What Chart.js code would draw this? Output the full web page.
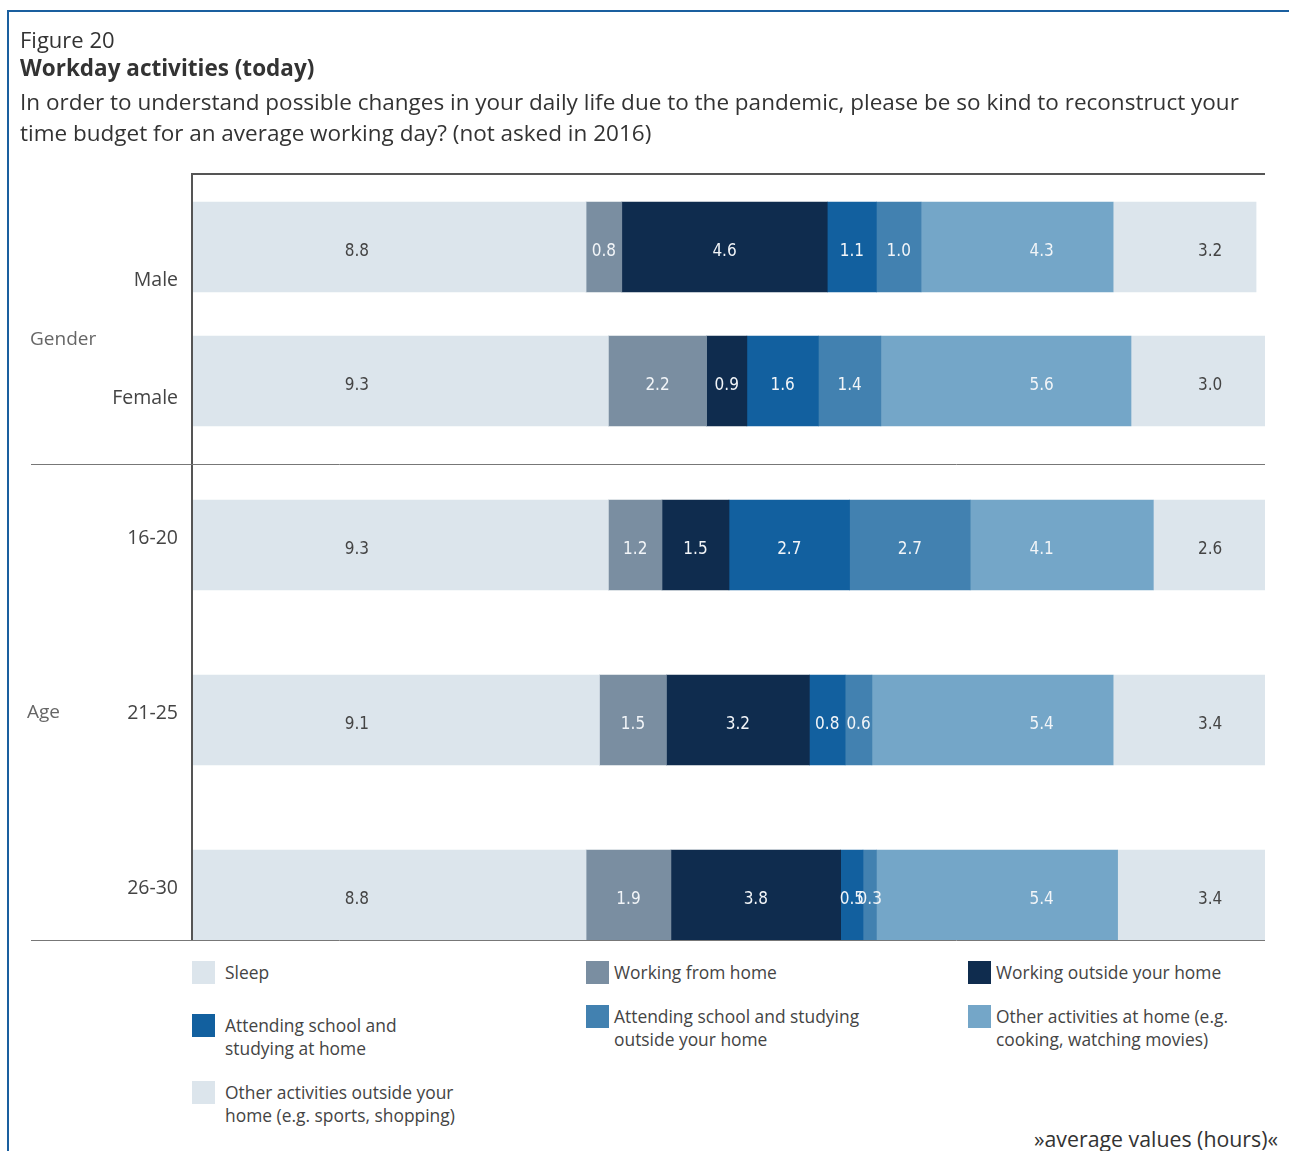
<!DOCTYPE html>
<html>
<head>
<meta charset="utf-8">
<title>Workday activities (today)</title>
<script src="https://cdn.jsdelivr.net/npm/chart.js@4.4.1/dist/chart.umd.min.js"></script>
<style>
  body { margin: 0; background: #fff; font-family: "Open Sans", "Noto Sans", sans-serif; color: #333; }
  #page { position: relative; width: 1289px; height: 1151px; overflow: hidden; }
  #frame { position: absolute; left: 7px; top: 10px; width: 1300px; height: 1200px;
           border-left: 2px solid #1a5f9f; border-top: 2px solid #1a5f9f; }
  #chart { position: absolute; left: 0; top: 0; }
  .txt { position: absolute; white-space: nowrap; }
  #fig { left: 20px; top: 24px; font-size: 22px; line-height: 30px; }
  #ttl { left: 20px; top: 53px; font-size: 22.5px; line-height: 30px; font-weight: bold; }
  #sub { left: 20px; top: 86px; font-size: 22.5px; line-height: 31px; }
  .leg { position: absolute; }
  .leg .sw { position: absolute; left: 0; top: 0; width: 23px; height: 23px; }
  .leg .lb { position: absolute; top: 0; font-size: 17.4px; line-height: 23px; color: #444; white-space: normal; }
  #note { right: 11px; top: 1124px; font-size: 21.3px; line-height: 30px; }
</style>
</head>
<body>
<div id="page">
  <div id="frame"></div>
  <canvas id="chart" width="1289" height="960"></canvas>
  <div class="txt" id="fig">Figure 20</div>
  <div class="txt" id="ttl">Workday activities (today)</div>
  <div class="txt" id="sub">In order to understand possible changes in your daily life due to the pandemic, please be so kind to reconstruct your<br>time budget for an average working day? (not asked in 2016)</div>
  <div id="legend"></div>
  <div class="txt" id="note">»average values (hours)«</div>
</div>
<script>
// --- data (hours per working day)
const categories = ['Male', 'Female', '16-20', '21-25', '26-30'];
const groupNames = ['Gender', 'Age'];
const seriesNames = [
  'Sleep',
  'Working from home',
  'Working outside your home',
  'Attending school and studying at home',
  'Attending school and studying outside your home',
  'Other activities at home (e.g. cooking, watching movies)',
  'Other activities outside your home (e.g. sports, shopping)'
];
const sleep      = [8.8, 9.3, 9.3, 9.1, 8.8];
const workHome   = [0.8, 2.2, 1.2, 1.5, 1.9];
const workOut    = [4.6, 0.9, 1.5, 3.2, 3.8];
const schoolHome = [1.1, 1.6, 2.7, 0.8, 0.5];
const schoolOut  = [1.0, 1.4, 2.7, 0.6, 0.3];
const otherHome  = [4.3, 5.6, 4.1, 5.4, 5.4];
const otherOut   = [3.2, 3.0, 2.6, 3.4, 3.4];
const series = [sleep, workHome, workOut, schoolHome, schoolOut, otherHome, otherOut];

// --- layout / style (y scale runs 0..100 top to bottom)
const rowPos   = [9.65, 27.12, 48.5, 71.32, 94.13];   // bar centres
const tickPos  = [13.95, 29.34, 47.59, 70.4, 93.22];  // category label centres
const groupPos = [21.77, 70.4];
const groupX   = [30, 27];
const splitPos = 37.94;                               // line between Gender and Age
const colors     = ['#dce5ec', '#7a8ea1', '#0f2c4e', '#12609f', '#4281b0', '#74a6c8', '#dce5ec'];
const textColors = ['#444', '#f2f5f8', '#f2f5f8', '#f2f5f8', '#f2f5f8', '#f2f5f8', '#444'];
const labelAt    = [3.67, null, null, null, null, 19.0, 22.77]; // some labels sit at a fixed hour mark
const legendPos  = [[192, 961, 33, 240], [586, 961, 28, 260], [968, 961, 28, 260],
                    [192, 1014, 33, 240], [586, 1005, 28, 260], [968, 1005, 28, 260],
                    [192, 1081, 33, 240]];

const datasets = series.map((vals, i) => ({
  label: seriesNames[i],
  data: vals.map((v, j) => ({ x: v, y: rowPos[j] })),
  backgroundColor: colors[i],
  borderWidth: 0,
  barThickness: 90
}));

const decor = {
  id: 'decor',
  afterDatasetsDraw(chart) {
    const ctx = chart.ctx;
    const xs = chart.scales.x, ys = chart.scales.y, a = chart.chartArea;
    ctx.save();
    // values inside the bars
    ctx.font = '17px "Liberation Sans Narrow", "DejaVu Sans Condensed", "Roboto", sans-serif';
    ctx.textAlign = 'center';
    ctx.textBaseline = 'alphabetic';
    chart.data.datasets.forEach((ds, i) => {
      chart.getDatasetMeta(i).data.forEach((bar, j) => {
        const x = labelAt[i] != null ? xs.getPixelForValue(labelAt[i]) : (bar.x + bar.base) / 2;
        ctx.fillStyle = textColors[i];
        ctx.fillText(ds.data[j].x.toFixed(1), x, bar.y + 9);
      });
    });
    // axis frame
    ctx.strokeStyle = '#555';
    ctx.lineWidth = 2;
    ctx.beginPath();
    ctx.moveTo(a.left - 2, a.top + 1);
    ctx.lineTo(a.right, a.top + 1);
    ctx.moveTo(a.left - 1, a.top);
    ctx.lineTo(a.left - 1, a.bottom);
    ctx.stroke();
    ctx.strokeStyle = '#777';
    ctx.lineWidth = 1;
    ctx.beginPath();
    const ySplit = Math.round(ys.getPixelForValue(splitPos)) + 0.5;
    ctx.moveTo(31, ySplit);
    ctx.lineTo(a.right, ySplit);
    ctx.moveTo(31, a.bottom + 0.5);
    ctx.lineTo(a.right, a.bottom + 0.5);
    ctx.stroke();
    // group names
    ctx.font = '19px "Open Sans", "Noto Sans", sans-serif';
    ctx.fillStyle = '#666';
    ctx.textAlign = 'left';
    ctx.textBaseline = 'middle';
    groupNames.forEach((g, k) => ctx.fillText(g, groupX[k], ys.getPixelForValue(groupPos[k])));
    ctx.restore();
  }
};

const chart = new Chart(document.getElementById('chart'), {
  type: 'bar',
  data: { datasets: datasets },
  plugins: [decor],
  options: {
    indexAxis: 'y',
    responsive: false,
    animation: false,
    layout: { padding: { top: 173, right: 24, bottom: 20, left: 0 } },
    plugins: { legend: { display: false }, tooltip: { enabled: false } },
    scales: {
      x: { type: 'linear', stacked: true, min: 0, max: 24, display: false },
      y: {
        type: 'linear', stacked: true, min: 0, max: 100, reverse: true, offset: false,
        grid: { display: false },
        border: { display: false },
        afterFit(scale) {
          scale.width = 193;
          scale.paddingTop = 0;
          scale.paddingBottom = 0;
        },
        afterBuildTicks(scale) { scale.ticks = tickPos.map(v => ({ value: v })); },
        ticks: {
          autoSkip: false,
          padding: 7,
          color: '#444',
          font: { family: '"Open Sans", "Noto Sans", sans-serif', size: 19.5 },
          callback: (v, i) => categories[i]
        }
      }
    }
  }
});

// html legend built from the datasets
const legend = document.getElementById('legend');
chart.data.datasets.forEach((ds, i) => {
  const p = legendPos[i];
  const item = document.createElement('div');
  item.className = 'leg';
  item.style.left = p[0] + 'px';
  item.style.top = p[1] + 'px';
  item.innerHTML = '<div class="sw" style="background:' + ds.backgroundColor + '"></div>' +
    '<div class="lb" style="left:' + p[2] + 'px;width:' + p[3] + 'px">' + ds.label + '</div>';
  legend.appendChild(item);
});
</script>
</body>
</html>
